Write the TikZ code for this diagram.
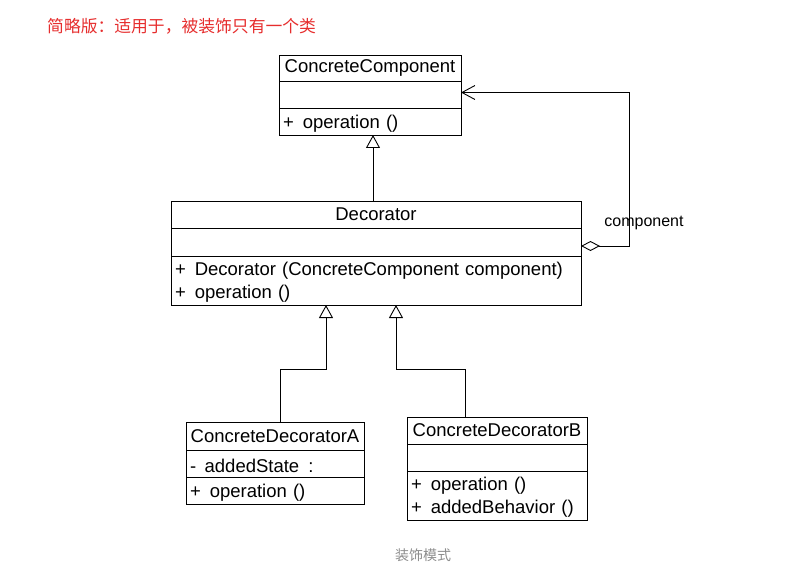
\documentclass[tikz,border=0pt]{standalone}
\usepackage{fontspec}
\setmainfont{Liberation Sans}
\newfontfamily\cjk{Noto Sans CJK SC}
\usetikzlibrary{arrows.meta}

\definecolor{titlered}{RGB}{230,45,45}
\definecolor{captiongray}{RGB}{140,140,140}

\tikzset{
  classpart/.style={draw, line width=0.9pt, anchor=north west, outer sep=0pt, inner xsep=4pt, inner ysep=0pt,
    font=\fontsize{18.5}{23}\selectfont},
  classname/.style={classpart, align=center},
  classbody/.style={classpart, align=left},
  inherit/.style={line width=0.9pt, -{Triangle[open,length=13pt,width=14pt]}},
  aggregate/.style={line width=0.9pt, {Diamond[open,length=19pt,width=10pt]}-{Straight Barb[length=13pt,width=14pt]}},
}
% visibility marks
\newcommand{\pub}{\rule{0pt}{17.5pt}+\hspace{9pt}}
\newcommand{\priv}{\rule{0pt}{17.5pt}-\hspace{8.5pt}}

\begin{document}
\begin{tikzpicture}[x=1pt,y=-1pt]
  \useasboundingbox (0,0) rectangle (785,567);
  % Title
  \node[anchor=west, text=titlered, font=\cjk\fontsize{16.8}{20}\selectfont, inner sep=0] (title) at (47,26) {简略版：适用于，被装饰只有一个类};

  % ConcreteComponent
  \node[classname, text width=174pt, minimum height=26pt] (ccname) at (279,55) {ConcreteComponent};
  \node[classbody, text width=174pt, minimum height=27pt] (ccattr) at (ccname.south west) {};
  \node[classbody, text width=174pt, minimum height=27pt] (ccops) at (ccattr.south west) {\pub operation ()};

  % Decorator
  \node[classname, text width=402pt, minimum height=27pt] (decname) at (171,201) {Decorator};
  \node[classbody, text width=402pt, minimum height=28pt] (decattr) at (decname.south west) {};
  \node[classbody, text width=402pt, minimum height=49pt] (decops) at (decattr.south west) {\pub Decorator (ConcreteComponent component)\\\pub operation ()};

  % ConcreteDecoratorA
  \node[classname, text width=170pt, minimum height=28pt] (aname) at (186,422) {ConcreteDecoratorA};
  \node[classbody, text width=170pt, minimum height=27pt] (aattr) at (aname.south west) {\priv addedState\hspace{9pt}:};
  \node[classbody, text width=170pt, minimum height=27pt] (aops) at (aattr.south west) {\pub operation ()};

  % ConcreteDecoratorB
  \node[classname, text width=172pt, minimum height=27pt] (bname) at (407,417) {ConcreteDecoratorB};
  \node[classbody, text width=172pt, minimum height=27pt] (battr) at (bname.south west) {};
  \node[classbody, text width=172pt, minimum height=49pt] (bops) at (battr.south west) {\pub operation ()\\\pub addedBehavior ()};

  % Generalisations
  \coordinate (dtop) at ([xshift=-3pt]decname.north);
  \coordinate (dA) at ([xshift=-50pt]decops.south);
  \coordinate (dB) at ([xshift=20pt]decops.south);
  \draw[inherit] (dtop) -- (dtop |- ccops.south);
  \draw[inherit] ([xshift=5pt]aname.north) |- ([yshift=-64pt]dA) -- (dA);
  \draw[inherit] ([xshift=-32pt]bname.north) |- ([yshift=-64pt]dB) -- (dB);

  % Aggregation
  \draw[aggregate] ([yshift=-4pt]decattr.east) -- ++(48,0) |- ([yshift=2pt]ccattr.east);
  \node[font=\fontsize{16}{19}\selectfont, inner sep=0] (role) at (644,223) {component};

  % Caption
  \node[text=captiongray, font=\cjk\fontsize{14}{17}\selectfont, inner sep=0] (caption) at (423,555) {装饰模式};
\end{tikzpicture}
\end{document}
